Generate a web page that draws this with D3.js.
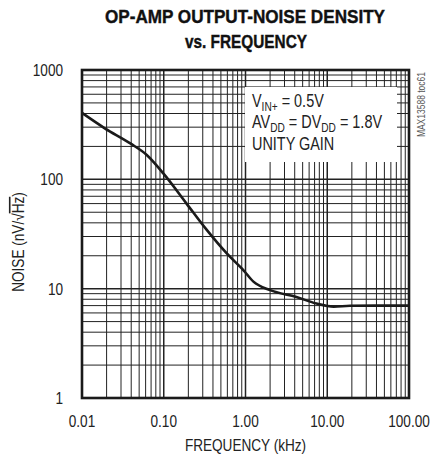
<!DOCTYPE html>
<html>
<head>
<meta charset="utf-8">
<script src="https://cdn.jsdelivr.net/npm/d3@7"></script>
<style>
  body { margin: 0; background: #fff; }
  svg { display: block; }
  text { font-family: "Liberation Sans", Arial, sans-serif; }
</style>
</head>
<body>
<div id="chart"></div>
<script>
// values
const freqKHz = [0.01, 0.019, 0.039, 0.062, 0.10, 0.19, 0.33, 0.59, 0.94, 1.25, 2.0, 4.2, 7.4, 12, 19, 40, 100];
const noiseNV = [405, 293, 213, 167, 112, 60, 35, 21, 14.8, 11.6, 9.7, 8.4, 7.3, 6.85, 6.98, 7.0, 7.0];

const xTicks = [0.01, 0.1, 1, 10, 100];
const xTickLabels = ["0.01", "0.10", "1.00", "10.00", "100.00"];
const yTicks = [1, 10, 100, 1000];
const yTickLabels = ["1", "10", "100", "1000"];

const W = 434, H = 460;
const margin = {top: 70, right: 25, bottom: 62, left: 82};
const iw = 409 - margin.left, ih = 398 - margin.top;

const svg = d3.select("#chart").append("svg")
    .attr("width", W).attr("height", H);

const x = d3.scaleLog().domain([0.01, 100]).range([margin.left, margin.left + iw]);
const y = d3.scaleLog().domain([1, 1000]).range([margin.top + ih, margin.top]);

// no narrow font installed, so squeeze text horizontally
function narrowText(parent, tx, ty, size, anchor, rot, sx = 0.85) {
    return parent.append("g")
        .attr("transform", `translate(${tx},${ty})` + (rot ? ` rotate(${rot})` : "") + ` scale(${sx},1)`)
      .append("text")
        .attr("font-size", size)
        .attr("fill", "#222")
        .attr("text-anchor", anchor);
}

// minor + major log grid
const gridX = [], gridY = [];
for (let d = 0.01; d < 100; d *= 10) for (let k = 1; k < 10; k++) gridX.push(d * k);
for (let d = 1; d < 1000; d *= 10) for (let k = 1; k < 10; k++) gridY.push(d * k);

const grid = svg.append("g").attr("stroke", "#222");
grid.selectAll(".gx").data(gridX).enter().append("line")
    .attr("x1", d => x(d)).attr("x2", d => x(d))
    .attr("y1", margin.top).attr("y2", margin.top + ih)
    .attr("stroke-width", d => xTicks.includes(+d.toPrecision(3)) ? 1.5 : 1);
grid.selectAll(".gy").data(gridY).enter().append("line")
    .attr("y1", d => y(d)).attr("y2", d => y(d))
    .attr("x1", margin.left).attr("x2", margin.left + iw)
    .attr("stroke-width", d => yTicks.includes(+d.toPrecision(3)) ? 1.5 : 1);

// legend box sits on top of grid
svg.append("rect")
    .attr("x", 245).attr("y", 87).attr("width", 152).attr("height", 75)
    .attr("fill", "#fff");

const l1 = narrowText(svg, 252, 107, 18.5, "start", 0, 0.78);
l1.append("tspan").text("V");
l1.append("tspan").attr("font-size", 13).attr("dy", 4).text("IN+");
l1.append("tspan").attr("dy", -4).text(" = 0.5V");
const l2 = narrowText(svg, 252, 128, 18.5, "start", 0, 0.78);
l2.append("tspan").text("AV");
l2.append("tspan").attr("font-size", 13).attr("dy", 4).text("DD");
l2.append("tspan").attr("dy", -4).text(" = DV");
l2.append("tspan").attr("font-size", 13).attr("dy", 4).text("DD");
l2.append("tspan").attr("dy", -4).text(" = 1.8V");
narrowText(svg, 252, 150, 18.5, "start", 0, 0.78).text("UNITY GAIN");

// curve
const line = d3.line()
    .x((d, i) => x(freqKHz[i]))
    .y(d => y(d))
    .curve(d3.curveMonotoneX);
svg.append("path")
    .datum(noiseNV)
    .attr("fill", "none")
    .attr("stroke", "#1a1a1a")
    .attr("stroke-width", 2.6)
    .attr("stroke-linejoin", "round")
    .attr("d", line);

// frame
svg.append("rect")
    .attr("x", margin.left).attr("y", margin.top)
    .attr("width", iw).attr("height", ih)
    .attr("fill", "none").attr("stroke", "#1a1a1a").attr("stroke-width", 2.6);

// tick labels
xTicks.forEach((d, i) => narrowText(svg, x(d), 427, 16, "middle").text(xTickLabels[i]));
yTicks.forEach((d, i) => narrowText(svg, 63, y(d) + 6, 16, "end").text(yTickLabels[i]));

// axis titles
narrowText(svg, x(1), 451, 16, "middle").text("FREQUENCY (kHz)");

const yt = narrowText(svg, 24, 242, 16, "middle", -90);
yt.append("tspan").text("NOISE (nV/√");
yt.append("tspan").attr("text-decoration", "overline").text("Hz");
yt.append("tspan").text(")");

// title
const title = svg.append("g")
    .attr("font-weight", "bold").attr("font-size", 18.5).attr("fill", "#111")
    .attr("stroke", "#111").attr("stroke-width", 0.4)
    .attr("text-anchor", "middle");
title.append("text").attr("x", 245).attr("y", 23)
    .attr("textLength", 280).attr("lengthAdjust", "spacingAndGlyphs")
    .text("OP-AMP OUTPUT-NOISE DENSITY");
title.append("text").attr("x", 246).attr("y", 48)
    .attr("textLength", 122).attr("lengthAdjust", "spacingAndGlyphs")
    .text("vs. FREQUENCY");

// part code on the right edge
narrowText(svg, 425, 72, 10, "end", -90)
    .attr("fill", "#555")
    .text("MAX13588 toc61");
</script>
</body>
</html>
